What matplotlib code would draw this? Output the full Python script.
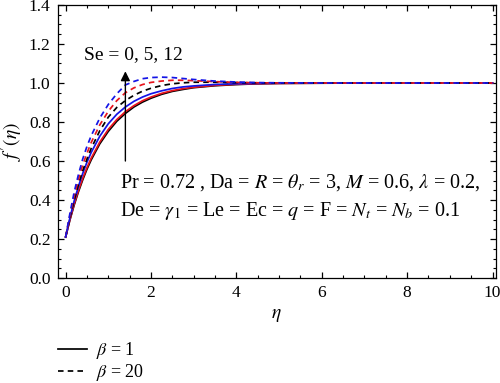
import matplotlib
matplotlib.use("Agg")
import matplotlib.pyplot as plt
from matplotlib.lines import Line2D
from matplotlib.ticker import MultipleLocator

plt.rcParams['font.family'] = ['Liberation Serif', 'DejaVu Serif']
plt.rcParams['mathtext.fontset'] = 'stix'

eta = [0, 0.1, 0.2, 0.3, 0.4, 0.5, 0.6, 0.8, 1.0, 1.2, 1.4, 1.6, 1.8, 2.0, 2.25,
       2.5, 2.75, 3.0, 3.5, 4.0, 4.5, 5, 6, 7, 8, 9, 10]

# beta = 1 (solid)
se0_b1 = [0.21, 0.297, 0.374, 0.442, 0.503, 0.558, 0.606, 0.688, 0.752, 0.804, 0.844, 0.877,
          0.902, 0.922, 0.942, 0.957, 0.967, 0.976, 0.986, 0.992, 0.996, 0.998, 0.999, 1.0, 1.0, 1.0, 1.0]
se5_b1 = [0.21, 0.299, 0.379, 0.449, 0.511, 0.566, 0.615, 0.697, 0.762, 0.813, 0.853, 0.884,
          0.909, 0.928, 0.947, 0.961, 0.971, 0.978, 0.988, 0.9935, 0.9965, 0.998, 0.9994, 1.0, 1.0, 1.0, 1.0]
se12_b1 = [0.21, 0.308, 0.395, 0.470, 0.536, 0.594, 0.644, 0.727, 0.791, 0.840, 0.877, 0.906,
           0.928, 0.945, 0.960, 0.972, 0.980, 0.985, 0.9925, 0.996, 0.998, 0.999, 1.0, 1.0, 1.0, 1.0, 1.0]
# beta = 20 (dashed)
se0_b20 = [0.21, 0.31, 0.40, 0.48, 0.55, 0.61, 0.665, 0.755, 0.825, 0.875, 0.91, 0.937,
           0.958, 0.973, 0.987, 0.996, 1.001, 1.004, 1.004, 1.002, 1.001, 1.0, 1.0, 1.0, 1.0, 1.0, 1.0]
se5_b20 = [0.21, 0.32, 0.42, 0.505, 0.58, 0.64, 0.695, 0.785, 0.855, 0.91, 0.95, 0.975,
           0.992, 1.003, 1.01, 1.014, 1.014, 1.012, 1.007, 1.003, 1.001, 1.0, 1.0, 1.0, 1.0, 1.0, 1.0]
se12_b20 = [0.21, 0.33, 0.44, 0.53, 0.61, 0.675, 0.73, 0.82, 0.89, 0.945, 0.99, 1.008,
            1.022, 1.028, 1.03, 1.028, 1.023, 1.018, 1.01, 1.005, 1.002, 1.001, 1.0, 1.0, 1.0, 1.0, 1.0]

colors = ['black', '#e8141c', '#1414e6']
solid = [se0_b1, se5_b1, se12_b1]
dashed = [se0_b20, se5_b20, se12_b20]
dash = (0, (3.2, 2.4))

fig = plt.figure(figsize=(5.0, 3.83), dpi=100)
ax = fig.add_axes([0.115, 0.274, 0.876, 0.713])

for c, y in zip(colors, solid):
    ax.plot(eta, y, color=c, lw=1.25, ls='-')
for c, y in zip(colors, dashed):
    ax.plot(eta, y, color=c, lw=1.25, ls=dash)

ax.set_xlim(-0.19, 10.07)
ax.set_ylim(0, 1.4)
ax.xaxis.set_major_locator(MultipleLocator(2))
ax.xaxis.set_minor_locator(MultipleLocator(0.5))
ax.yaxis.set_minor_locator(MultipleLocator(0.05))
ax.set_yticks([0, 0.2, 0.4, 0.6, 0.8, 1.0, 1.2, 1.4])
ax.set_yticklabels(['0.0', '0.2', '0.4', '0.6', '0.8', '1.0', '1.2', '1.4'])
ax.tick_params(which='both', direction='in', top=True, right=True, labelsize=12.5)
ax.tick_params(which='major', length=4.5, width=0.9, pad=5)
ax.tick_params(which='minor', length=2.5, width=0.8)
for s in ax.spines.values():
    s.set_linewidth(0.9)

ax.set_xlabel(r'$\eta$', fontsize=14, labelpad=4)
ax.set_ylabel(r"$f\,'(\eta)$", fontsize=14, labelpad=3)

ax.annotate('', xy=(1.4, 1.06), xytext=(1.4, 0.60),
            arrowprops=dict(arrowstyle='-|>', color='black', lw=1.0,
                            mutation_scale=14, shrinkA=0, shrinkB=0))
ax.text(0.42, 1.145, 'Se = 0, 5, 12', fontsize=14, ha='left', va='center')

ax.text(1.28, 0.49,
        r'Pr = 0.72 , Da = $R$ = $\theta_r$ = 3, $M$ = 0.6, $\lambda$ = 0.2,',
        fontsize=14.5, ha='left', va='center')
ax.text(1.28, 0.345,
        r'De = $\gamma_1$ = Le = Ec = $q$ = F = $N_t$ = $N_b$ = 0.1',
        fontsize=14.5, ha='left', va='center')

handles = [Line2D([], [], color='black', lw=1.25, ls='-'),
           Line2D([], [], color='black', lw=1.25, ls=dash)]
fig.legend(handles, [r'$\beta$ = 1', r'$\beta$ = 20'], loc='upper left',
           bbox_to_anchor=(0.116, 0.112), frameon=False, fontsize=13,
           handlelength=1.6, handletextpad=0.5, labelspacing=0.05,
           borderaxespad=0, borderpad=0)

fig.savefig('out.png', dpi=100)
